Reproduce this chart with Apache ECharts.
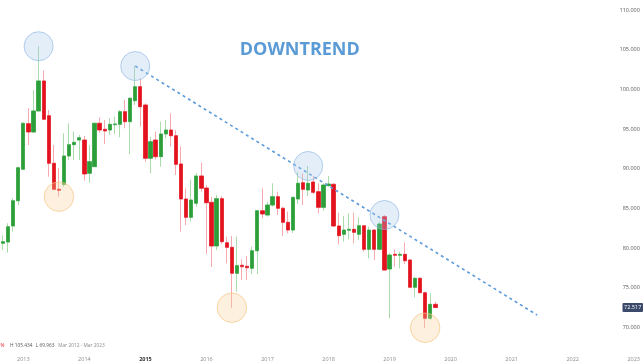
<!DOCTYPE html>
<html><head><meta charset="utf-8">
<script src="https://cdn.jsdelivr.net/npm/echarts@6/dist/echarts.min.js"></script>
<style>html,body{margin:0;padding:0;background:#fff}#c{width:643px;height:364px}</style>
</head><body><div id="c"></div>
<script>
// Month categories: Sep 2012 .. Feb 2023
const startYear = 2012, startMonth = 9, monthCount = 126;
const months = [];
for (let i = 0; i < monthCount; i++) {
  const m = startMonth - 1 + i;
  months.push((startYear + Math.floor(m / 12)) + '-' + String(m % 12 + 1).padStart(2, '0'));
}

// Monthly OHLC, Sep 2012 .. Oct 2019
const open = [
  80.61, 80.77, 82.79, 85.97,
  89.93, 95.68, 94.63, 97.28, 101.06, 96.68, 90.69, 87.41, 88.04, 91.61, 93.03, 93.62,
  93.62, 89.43, 90.26, 95.73, 94.97, 94.88, 95.55, 95.60, 97.19, 95.93, 98.57, 100.34,
  98.03, 91.32, 93.62, 91.52, 94.38, 94.88, 94.16, 90.60, 86.19, 83.88, 85.65, 89.09,
  87.57, 85.77, 80.27, 86.23, 80.68, 80.10, 76.83, 77.84, 77.71, 77.46, 79.67, 84.71,
  84.17, 85.43, 86.48, 85.02, 83.25, 82.28, 86.19, 88.24, 87.32, 88.33, 87.11, 85.14,
  87.87, 88.04, 82.79, 81.74, 82.25, 82.37, 81.74, 82.82, 79.85, 82.28, 79.85, 83.96,
  77.37, 79.22, 79.10, 79.22, 78.50, 75.07, 76.20, 74.38, 71.16, 72.92
];
const close = [
  80.81, 82.70, 85.97, 90.13,
  95.73, 94.63, 97.28, 101.06, 96.23, 90.69, 87.41, 87.29, 91.61, 93.03, 93.33, 93.91,
  89.34, 90.89, 95.73, 94.88, 94.76, 95.60, 95.64, 97.19, 95.93, 98.88, 100.34, 97.82,
  91.32, 93.41, 91.52, 94.38, 94.88, 94.16, 90.56, 86.19, 83.88, 86.06, 89.09, 87.54,
  85.72, 80.27, 86.23, 80.81, 80.10, 76.83, 77.79, 77.66, 77.53, 79.67, 84.71, 84.30,
  85.43, 86.48, 85.02, 83.25, 82.28, 86.40, 88.17, 87.41, 88.17, 87.03, 85.14, 87.95,
  88.08, 82.79, 81.57, 82.28, 82.37, 81.99, 82.82, 79.85, 82.28, 79.85, 83.04, 77.24,
  79.13, 79.10, 79.22, 78.41, 75.07, 76.20, 74.38, 71.16, 72.92, 72.517
];
const low = [
  79.76, 79.42, 82.07, 85.43,
  89.85, 92.99, 94.50, 97.19, 96.14, 89.00, 87.35, 86.48, 87.74, 91.10, 91.10, 91.10,
  88.49, 88.24, 90.22, 94.54, 93.12, 94.25, 94.38, 93.96, 95.10, 91.82, 98.03, 95.30,
  90.89, 89.43, 91.19, 90.26, 93.84, 92.78, 89.21, 82.07, 82.91, 83.33, 85.22, 87.11,
  79.26, 77.62, 79.76, 80.50, 78.09, 72.49, 74.51, 75.98, 75.98, 76.74, 76.74, 83.76,
  83.96, 85.22, 84.17, 81.53, 81.87, 81.90, 85.56, 85.43, 86.57, 86.80, 84.39, 84.71,
  87.74, 82.66, 80.48, 80.81, 81.11, 80.61, 81.02, 79.55, 78.72, 78.50, 79.76, 77.16,
  71.16, 77.66, 77.46, 78.00, 74.98, 73.80, 74.30, 69.963, 70.94, 72.45
];
const high = [
  81.60, 83.13, 86.27, 90.26,
  95.80, 97.65, 99.92, 105.434, 102.35, 97.40, 92.99, 90.06, 94.47, 95.73, 94.67, 94.25,
  94.12, 92.99, 95.80, 96.48, 96.14, 96.36, 96.56, 97.40, 98.66, 99.00, 102.94, 101.40,
  98.25, 94.04, 94.67, 95.93, 96.14, 96.99, 94.88, 92.78, 87.54, 88.58, 89.43, 90.76,
  87.92, 86.48, 86.69, 86.57, 81.44, 81.53, 81.44, 78.59, 79.01, 80.18, 84.80, 87.54,
  85.85, 88.17, 87.11, 85.22, 84.59, 86.44, 89.63, 89.43, 90.35, 89.09, 88.17, 88.17,
  89.09, 88.20, 84.46, 84.05, 84.39, 84.46, 83.88, 82.91, 82.70, 82.37, 83.33, 84.17,
  79.35, 79.85, 79.55, 80.68, 78.63, 76.32, 76.35, 74.51, 74.31, 73.25
];

// Annotated swing highs (blue) and lows (orange), by month
const peakMonths = ['2013-04', '2014-11', '2017-09', '2018-12'];
const troughMonths = ['2013-08', '2016-06', '2019-08'];
// Trendline: from the Nov 2014 high to its projected end
const trendStartMonth = '2014-11';
const trendEnd = ['2021-06', 71.57];

const yMin = 70, yMax = 110, yStep = 5;
const titleText = 'DOWNTREND';
const rangeText = 'Mar 2012 - Mar 2023';

const idx = m => months.indexOf(m);
const wickData = open.map((o, i) => [o, close[i], low[i], high[i]]);
const bodyData = open.map((o, i) => [o, close[i], Math.min(o, close[i]), Math.max(o, close[i])]);
const peakData = peakMonths.map(m => [m, high[idx(m)]]);
const troughData = troughMonths.map(m => [m, low[idx(m)]]);
const trendData = [[trendStartMonth, high[idx(trendStartMonth)]], trendEnd];
const hiAll = Math.max(...high), loAll = Math.min(...low);
const lastClose = close[close.length - 1];

const FONT = 'Open Sans, Roboto, sans-serif';
const chart = echarts.init(document.getElementById('c'), null, {renderer: 'canvas'});
chart.setOption({
  animation: false,
  backgroundColor: '#ffffff',
  grid: {left: 1.26, right: 3.1, top: 10, bottom: 36.5},
  xAxis: {
    type: 'category', data: months, boundaryGap: false,
    axisLine: {show: false}, axisTick: {show: false}, splitLine: {show: false},
    axisLabel: {
      interval: 0, margin: 29, fontSize: 5.5, color: '#8c8c8c', fontFamily: FONT,
      formatter: v => v.endsWith('-01') ? (v.slice(0, 4) === '2015' ? '{b|2015}' : v.slice(0, 4)) : '',
      rich: {b: {fontSize: 5.5, color: '#333', fontWeight: 'bold', fontFamily: FONT}}
    }
  },
  yAxis: {
    type: 'value', position: 'right', min: yMin, max: yMax, interval: yStep, offset: 3,
    axisLine: {show: false}, axisTick: {show: false}, splitLine: {show: false},
    axisLabel: {inside: true, margin: 2, fontSize: 5.5, color: '#555', fontFamily: FONT,
      formatter: v => v.toFixed(3)}
  },
  series: [
    {
      type: 'candlestick', data: wickData, barWidth: 3.8, clip: false, z: 2,
      itemStyle: {color: '#a9dbab', color0: '#f6aab0', borderColor: '#a9dbab', borderColor0: '#f6aab0', borderWidth: 1}
    },
    {
      type: 'candlestick', data: bodyData, barWidth: 3.8, clip: false, z: 3,
      itemStyle: {color: '#2c9f3a', color0: '#e3121f', borderColor: '#2c9f3a', borderColor0: '#e3121f', borderWidth: 0.6}
    },
    {
      type: 'line', data: trendData, symbol: 'none', z: 4,
      lineStyle: {color: '#5b9bdc', width: 1.6, type: [3, 3.2]}
    },
    {
      type: 'scatter', data: peakData, symbol: 'circle', symbolSize: 29, clip: false, z: 5,
      itemStyle: {color: 'rgba(168,200,234,0.38)', borderColor: 'rgba(140,182,228,0.8)', borderWidth: 1}
    },
    {
      type: 'scatter', data: troughData, symbol: 'circle', symbolSize: 29.5, clip: false, z: 5,
      itemStyle: {color: 'rgba(250,205,150,0.38)', borderColor: 'rgba(246,196,128,0.85)', borderWidth: 1}
    }
  ],
  graphic: [
    {id: 'title', type: 'text', left: 300.8 - 61, top: 40.5, style: {text: titleText, fill: '#5b9bd5', fontSize: 18, fontWeight: 'bold', fontFamily: FONT}},
    {id: 'pct', type: 'text', x: 0.5, y: 345.7, style: {text: '%', fill: '#e3121f', fontSize: 4.8, fontFamily: FONT, textVerticalAlign: 'middle'}},
    {id: 'hi', type: 'text', x: 10, y: 345.7, style: {text: 'H ' + hiAll.toFixed(3), fill: '#555', fontSize: 4.8, fontFamily: FONT, textVerticalAlign: 'middle'}},
    {id: 'lo', type: 'text', x: 35.7, y: 345.7, style: {text: 'L ' + loAll.toFixed(3), fill: '#555', fontSize: 4.8, fontFamily: FONT, textVerticalAlign: 'middle'}},
    {id: 'range', type: 'text', x: 58.3, y: 345.7, style: {text: rangeText, fill: '#8c8c8c', fontSize: 4.8, fontFamily: FONT, textVerticalAlign: 'middle'}}
  ]
});
const py = chart.convertToPixel({yAxisIndex: 0}, lastClose);
chart.setOption({graphic: [
  {id: 'tagBox', type: 'rect', shape: {x: 622.5, y: py - 4.5, width: 20.5, height: 9, r: 1}, style: {fill: '#3b4a6a'}, z: 10},
  {id: 'tagText', type: 'text', x: 632.7, y: py, z: 11, style: {text: lastClose.toFixed(3), fill: '#fff', fontSize: 5.5, fontFamily: FONT, textAlign: 'center', textVerticalAlign: 'middle'}}
]});
</script></body></html>
